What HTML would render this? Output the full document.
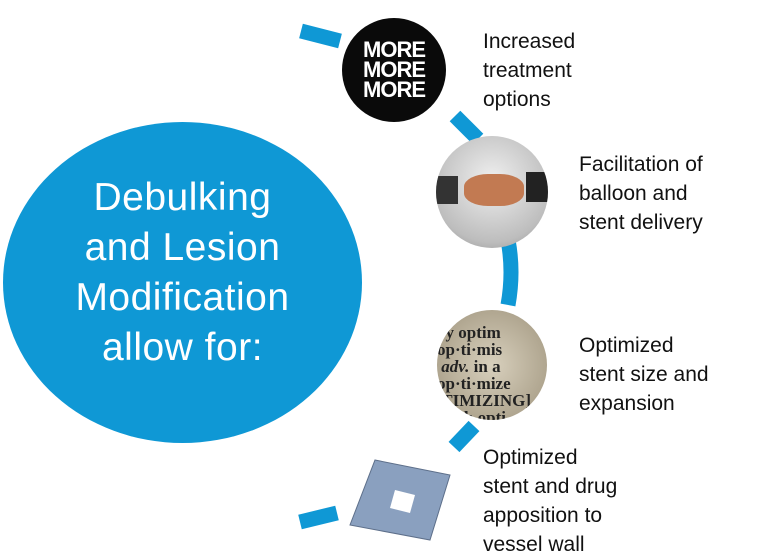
<!DOCTYPE html>
<html><head><style>
body{margin:0;width:768px;height:559px;background:#fff;position:relative;overflow:hidden;font-family:"Liberation Sans",sans-serif}
.t{position:absolute;font-size:21px;line-height:29px;color:#111}
.big{position:absolute;left:3px;top:122px;width:359px;height:321px;border-radius:50%;background:#0f98d5}
.bt{position:absolute;left:3px;top:173px;width:359px;color:#fff;font-size:39px;line-height:50px;text-align:center;letter-spacing:0.5px}
.c{position:absolute;border-radius:50%;overflow:hidden}
</style></head><body>
<svg width="768" height="559" style="position:absolute;left:0;top:0">
<g stroke="#0f98d5" stroke-width="15" fill="none">
<path d="M301 31 L340 41"/>
<path d="M455 116 L478 139"/>
<path d="M508 240 Q514 272 508 305"/>
<path d="M454 447 L474 426"/>
<path d="M300 522 L337 513"/>
</g>
</svg>
<div class="big"></div>
<div class="bt">Debulking<br>and Lesion<br>Modification<br>allow for:</div>
<div class="c" style="left:342px;top:18px;width:104px;height:104px;background:#0a0a0a;color:#fff;font-weight:bold;font-size:22px;line-height:20px;text-align:center;display:flex;align-items:center;justify-content:center;letter-spacing:-1px">MORE<br>MORE<br>MORE</div>
<div class="c" style="left:436px;top:136px;width:112px;height:112px;background:radial-gradient(circle at 50% 40%,#f0f0f0,#bdbdbd 70%,#8a8a8a)">
<div style="position:absolute;left:0;top:40px;width:22px;height:28px;background:#333"></div>
<div style="position:absolute;left:90px;top:36px;width:22px;height:30px;background:#222"></div>
<div style="position:absolute;left:28px;top:38px;width:60px;height:32px;border-radius:40%;background:#c27a52"></div>
</div>
<div class="c" style="left:437px;top:310px;width:110px;height:110px;background:radial-gradient(circle,#d8d0bd,#b0a690 70%,#8f8672);color:#222;font-family:'Liberation Serif',serif;font-weight:bold;font-size:17px;line-height:17px;padding-top:14px;box-sizing:border-box;white-space:nowrap">&nbsp;&nbsp;y optim<br>op·ti·mis<br>&nbsp;<i>adv.</i> in a<br>op·ti·mize<br>&nbsp;TIMIZING].<br>&nbsp;with opti</div>
<svg width="110" height="90" style="position:absolute;left:345px;top:455px">
<polygon points="30,5 105,20 85,85 5,70" fill="#8aa0bf" stroke="#5d6f8a"/>
<polygon points="50,35 70,40 65,58 45,53" fill="#fff"/>
</svg>
<div class="t" style="left:483px;top:27px">Increased<br>treatment<br>options</div>
<div class="t" style="left:579px;top:150px">Facilitation of<br>balloon and<br>stent delivery</div>
<div class="t" style="left:579px;top:331px">Optimized<br>stent size and<br>expansion</div>
<div class="t" style="left:483px;top:443px">Optimized<br>stent and drug<br>apposition to<br>vessel wall</div>
</body></html>
